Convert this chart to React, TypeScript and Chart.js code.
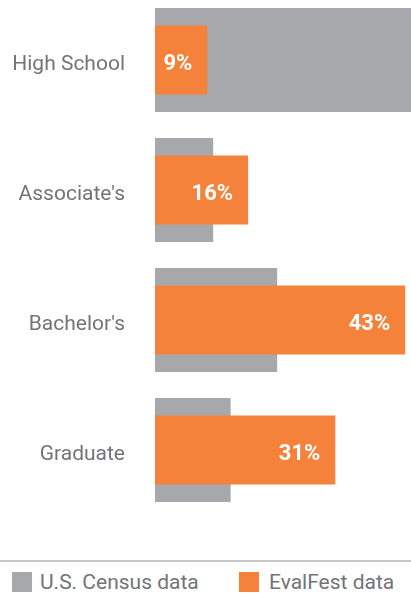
import React, { useEffect, useRef } from "react";
import { Chart, registerables } from "chart.js";

Chart.register(...registerables);

const categories = ["High School", "Associate's", "Bachelor's", "Graduate"];
const censusValues = [44, 10, 21, 13];
const evalFestValues = [9, 16, 43, 31];
const seriesNames = ["U.S. Census data", "EvalFest data"];
const xMax = 44;

const GRAY = "#a7a8ab";
const ORANGE = "#f5823a";
const TEXT = "#737477";
const FONT = "Roboto, 'Open Sans', sans-serif";

const valueLabels = {
  id: "valueLabels",
  afterDatasetsDraw(chart: any) {
    const ctx = chart.ctx;
    const meta = chart.getDatasetMeta(1);
    ctx.save();
    ctx.fillStyle = "#ffffff";
    ctx.font = `bold 22px ${FONT}`;
    ctx.textAlign = "right";
    ctx.textBaseline = "middle";
    meta.data.forEach((bar: any, i: number) => {
      ctx.fillText(`${evalFestValues[i]}%`, bar.x - 15, bar.y + 4);
    });
    ctx.restore();
  },
};

export default function App() {
  const ref = useRef<HTMLCanvasElement | null>(null);

  useEffect(() => {
    if (!ref.current) return;
    const chart = new Chart(ref.current, {
      type: "bar",
      data: {
        labels: categories,
        datasets: [
          {
            label: seriesNames[0],
            data: censusValues,
            backgroundColor: GRAY,
            barPercentage: 0.8,
            categoryPercentage: 1,
            grouped: false,
            order: 2,
          },
          {
            label: seriesNames[1],
            data: evalFestValues,
            backgroundColor: ORANGE,
            barPercentage: 0.53,
            categoryPercentage: 1,
            grouped: false,
            order: 1,
          },
        ],
      },
      options: {
        indexAxis: "y",
        animation: false,
        responsive: true,
        maintainAspectRatio: false,
        layout: { padding: 0, autoPadding: false },
        plugins: {
          legend: { display: false },
          tooltip: { enabled: false },
        },
        scales: {
          x: {
            display: false,
            min: 0,
            max: xMax,
          },
          y: {
            border: { display: false },
            grid: { display: false, drawTicks: false },
            ticks: {
              color: TEXT,
              font: { family: FONT, size: 21 },
              padding: 30,
              labelOffset: 5,
            },
            afterFit(scale: any) {
              scale.width = 155;
              scale.paddingTop = 0;
              scale.paddingBottom = 0;
            },
          },
        },
      },
      plugins: [valueLabels],
    });
    return () => chart.destroy();
  }, []);

  const legendText: React.CSSProperties = {
    position: "absolute",
    top: 582,
    transform: "translateY(-50%)",
    fontFamily: FONT,
    fontSize: 21,
    color: TEXT,
    whiteSpace: "nowrap",
    lineHeight: "24px",
  };

  return (
    <div style={{ position: "absolute", left: 0, top: 0, width: 411, height: 597, overflow: "hidden", background: "#fff" }}>
      <div style={{ position: "absolute", left: 0, top: -5, width: 411, height: 520 }}>
        <canvas ref={ref} />
      </div>
      <div style={{ position: "absolute", left: 0, top: 560, width: 411, height: 1.5, background: "#c8c8c8" }} />
      <div style={{ position: "absolute", left: 12, top: 572, width: 20, height: 20, background: GRAY }} />
      <div style={{ ...legendText, left: 40 }}>{seriesNames[0]}</div>
      <div style={{ position: "absolute", left: 239, top: 572, width: 20, height: 20, background: ORANGE }} />
      <div style={{ ...legendText, left: 269 }}>{seriesNames[1]}</div>
    </div>
  );
}
